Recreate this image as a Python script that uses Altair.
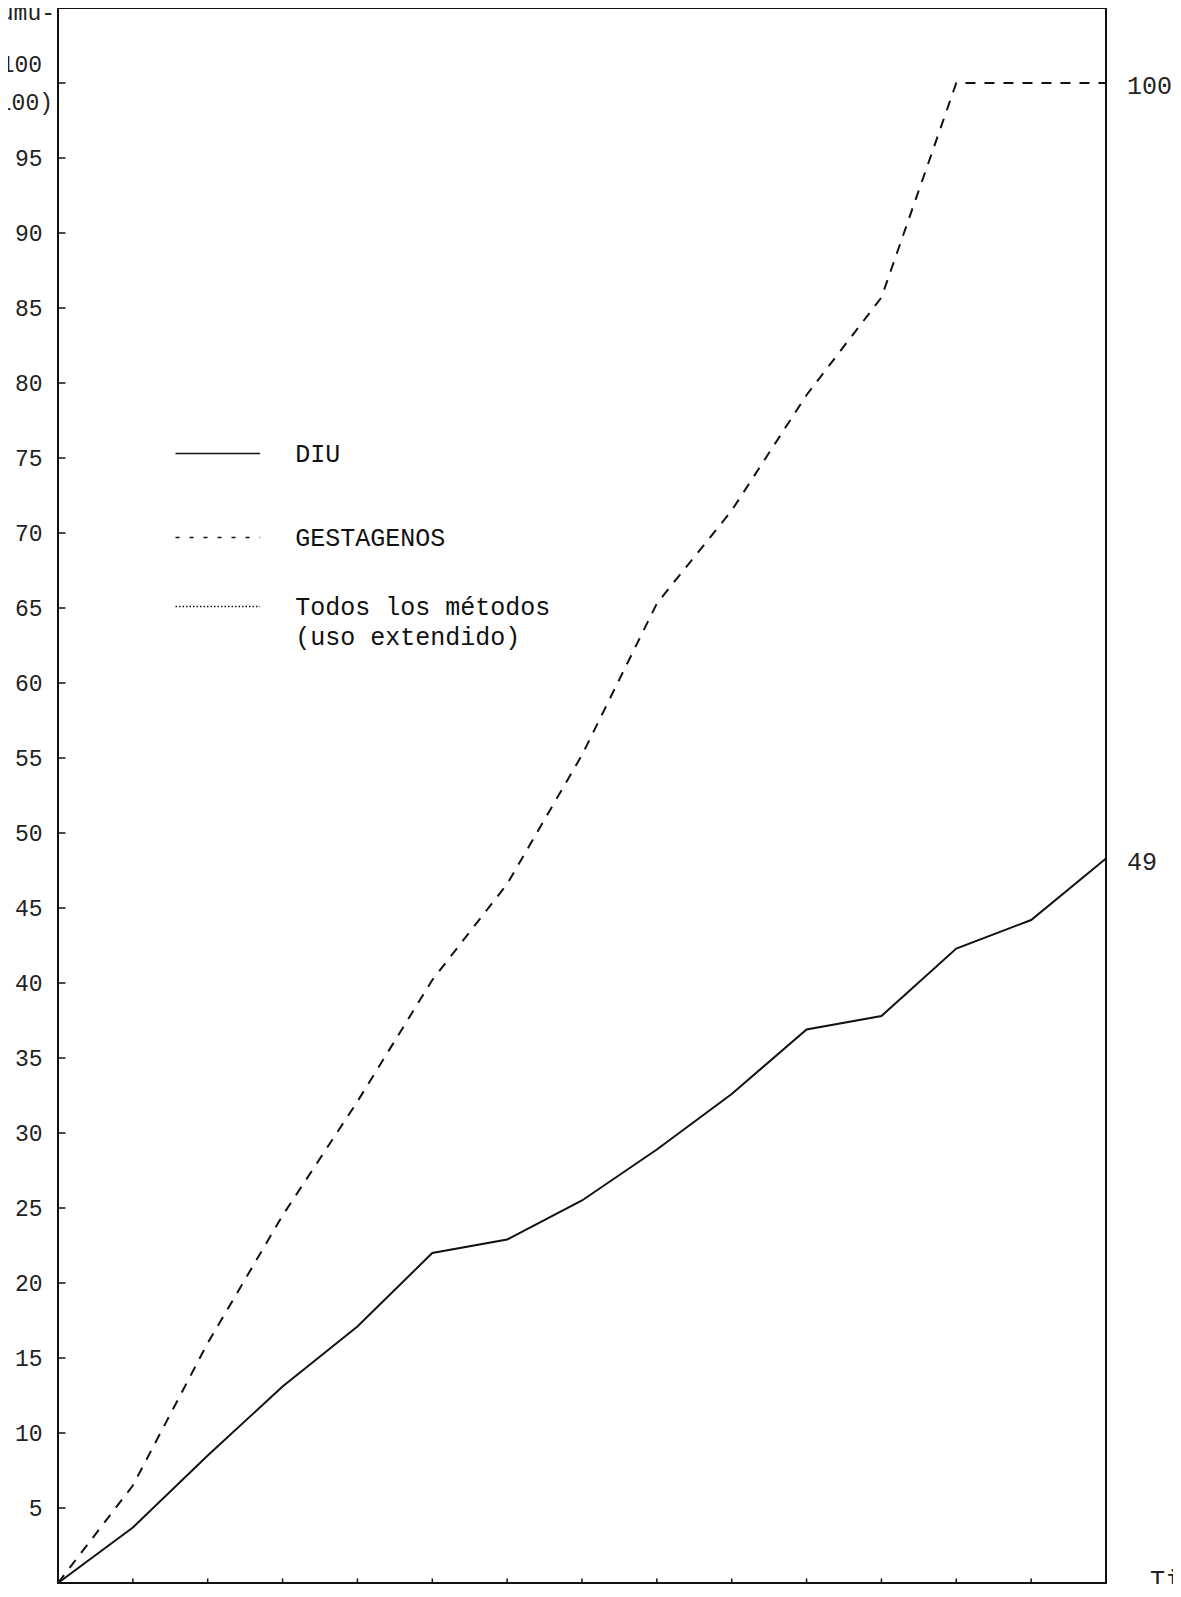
import altair as alt
import pandas as pd

# ---- data ----
months = list(range(15))
diu = [0, 3.7, 8.5, 13.1, 17.1, 22.0, 22.9, 25.5, 28.9, 32.6, 36.9, 37.8, 42.3, 44.2, 48.3]
gestagenos = [0, 6.5, 16.0, 24.5, 32.1, 40.2, 46.6, 55.2, 65.3, 71.5, 79.2, 85.7, 100, 100, 100]

y_label_values = [5, 10, 15, 20, 25, 30, 35, 40, 45, 50, 55, 60, 65, 70, 75, 80, 85, 90, 95]
y_tick_values = y_label_values + [100]

legend_series = ["DIU", "GESTAGENOS", "Todos los métodos"]
legend_series_y = [75.3, 69.7, 65.1]
legend_texts = ["DIU", "GESTAGENOS", "Todos los métodos", "(uso extendido)"]
legend_texts_y = [75.3, 69.7, 65.1, 63.1]

end_labels = ["100", "49"]
end_values = [100, 48.3]

title_lines = ["Tasa acumu-", "lada por 100", "(base 100)"]
title_y = [104.2, 101.2, 98.7]

FONT = "Liberation Mono"
INK = "#111111"

X_SCALE = alt.Scale(domain=[0, 14], nice=False, zero=False)
Y_SCALE = alt.Scale(domain=[0, 105], nice=False, zero=False)

series_df = pd.DataFrame({"mes": months, "diu": diu, "gest": gestagenos})

x_enc = alt.X("mes:Q", scale=X_SCALE, axis=None)

diu_line = alt.Chart(series_df).mark_line(color=INK, strokeWidth=2).encode(
    x=x_enc,
    y=alt.Y("diu:Q", scale=Y_SCALE,
            axis=alt.Axis(values=y_label_values, labelFont=FONT, labelFontSize=23,
                          labelColor="#222222", labelPadding=16, ticks=False,
                          domain=False, grid=False, title=None)),
)

gest_line = alt.Chart(series_df).mark_line(color=INK, strokeWidth=2, strokeDash=[10, 9]).encode(
    x=x_enc,
    y=alt.Y("gest:Q", scale=Y_SCALE),
)

# inward ticks on the left axis
ytick_df = pd.DataFrame({"v": y_tick_values, "x0": [0] * len(y_tick_values), "x1": [0.1] * len(y_tick_values)})
y_ticks = alt.Chart(ytick_df).mark_rule(color=INK, strokeWidth=1.5).encode(
    x=alt.X("x0:Q", scale=X_SCALE, axis=None), x2="x1:Q",
    y=alt.Y("v:Q", scale=Y_SCALE),
)

# crossing ticks on the bottom axis
xtick_df = pd.DataFrame({"m": months, "lo": [-0.3] * 15, "hi": [0.3] * 15})
x_ticks = alt.Chart(xtick_df).mark_rule(color=INK, strokeWidth=1.5).encode(
    x=alt.X("m:Q", scale=X_SCALE, axis=None),
    y=alt.Y("lo:Q", scale=Y_SCALE), y2="hi:Q",
)

# right border continues below the axis
ext_df = pd.DataFrame({"m": [14], "lo": [-1.5], "hi": [0]})
right_ext = alt.Chart(ext_df).mark_rule(color=INK, strokeWidth=2).encode(
    x=alt.X("m:Q", scale=X_SCALE, axis=None),
    y=alt.Y("lo:Q", scale=Y_SCALE), y2="hi:Q",
)

# legend samples
leg_df = pd.DataFrame({"s": legend_series, "y": legend_series_y,
                       "x0": [1.57] * 3, "x1": [2.70] * 3})
styles = {"DIU": dict(strokeWidth=1.6),
          "GESTAGENOS": dict(strokeWidth=1.6, strokeDash=[4, 10]),
          "Todos los métodos": dict(strokeWidth=1.4, strokeDash=[1.5, 2])}
leg_rules = []
for name in legend_series:
    leg_rules.append(
        alt.Chart(leg_df).transform_filter(alt.datum.s == name)
        .mark_rule(color=INK, **styles[name]).encode(
            x=alt.X("x0:Q", scale=X_SCALE, axis=None), x2="x1:Q",
            y=alt.Y("y:Q", scale=Y_SCALE),
        )
    )

legtext_df = pd.DataFrame({"t": legend_texts, "y": legend_texts_y, "x": [3.17] * 4})
leg_text = alt.Chart(legtext_df).mark_text(
    font=FONT, fontSize=25, align="left", baseline="middle", color=INK
).encode(
    x=alt.X("x:Q", scale=X_SCALE, axis=None),
    y=alt.Y("y:Q", scale=Y_SCALE),
    text="t:N",
)

# end labels on the right
end_df = pd.DataFrame({"t": end_labels, "v": end_values, "m": [14, 14]})
end_text = alt.Chart(end_df).mark_text(
    font=FONT, fontSize=25, align="left", baseline="middle", dx=21, dy=3, color="#222222"
).encode(
    x=alt.X("m:Q", scale=X_SCALE, axis=None),
    y=alt.Y("v:Q", scale=Y_SCALE),
    text="t:N",
)

# y-axis title lines (partly cut off at the page edge, as in the scan)
title_df = pd.DataFrame({"t": title_lines, "y": title_y})
title_offsets = [-3, -16, -5]
title_layers = []
for i, line in enumerate(title_lines):
    title_layers.append(
        alt.Chart(title_df).transform_filter(alt.datum.t == line)
        .mark_text(font=FONT, fontSize=23, align="right",
                   baseline="alphabetic" if i == 0 else "middle", color="#222222")
        .encode(x=alt.value(title_offsets[i]), y=alt.Y("y:Q", scale=Y_SCALE), text="t:N")
    )

# x-axis title (cut off at the bottom right)
xt_df = pd.DataFrame({"t": ["Tiempo"]})
x_title = alt.Chart(xt_df).mark_text(
    font=FONT, fontSize=25, align="left", baseline="top", color="#222222"
).encode(x=alt.value(1092), y=alt.value(1560), text="t:N")

chart = alt.layer(
    gest_line, diu_line, y_ticks, x_ticks, right_ext, *leg_rules, leg_text,
    end_text, *title_layers, x_title
).properties(
    width=1048, height=1575,
    background="white",
    autosize=alt.AutoSizeParams(type="none"),
    padding={"left": 50, "top": 0, "right": 67, "bottom": 1},
).configure_view(
    stroke=INK, strokeWidth=2
)

chart.save("out.html", embed_options={"renderer": "svg", "actions": False})
